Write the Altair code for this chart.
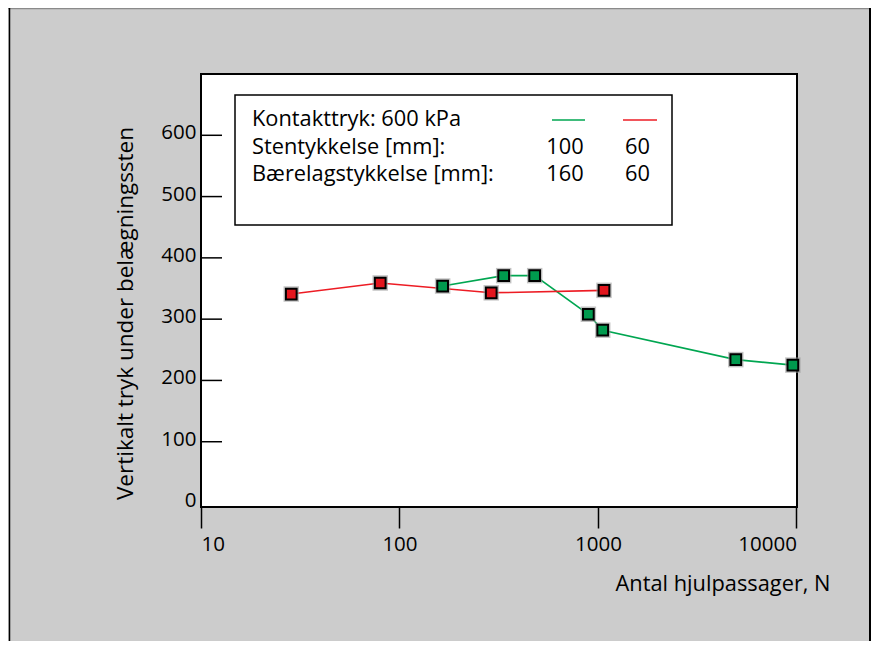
import altair as alt
import pandas as pd

# ---- data ----
green_N = [165, 335, 480, 895, 1057, 4950, 9600]
green_P = [354, 371, 371, 308, 282, 234, 225]
red_N = [28.5, 80, 290, 1073]
red_P = [341, 359, 343, 347]
series_names = ["Sten 100 mm / bærelag 160 mm", "Sten 60 mm / bærelag 60 mm"]
series_colors = ["#00a651", "#ed1c24"]
fill_colors = ["#009a4e", "#e3161e"]

x_ticks = [10, 100, 1000, 10000]
y_ticks = [0, 100, 200, 300, 400, 500, 600]
y_tick_marks = [100, 200, 300, 400, 500, 600]

legend_header = "Kontakttryk: 600 kPa"
legend_rows = ["Stentykkelse [mm]:", "Bærelagstykkelse [mm]:"]
legend_green = ["100", "160"]
legend_red = ["60", "60"]

x_title = "Antal hjulpassager, N"
y_title = "Vertikalt tryk under belægningssten"

FONT = "Open Sans"
W, H = 596, 433

df = pd.DataFrame({
    "N": green_N + red_N,
    "P": green_P + red_P,
    "serie": [series_names[0]] * len(green_N) + [series_names[1]] * len(red_N),
})

xs = alt.Scale(type="log", domain=[10, 10070], nice=False)
ys = alt.Scale(domain=[-6.5, 700], nice=False, zero=False)
cs = alt.Scale(domain=series_names, range=series_colors)
fs = alt.Scale(domain=series_names, range=fill_colors)

x_axis = alt.Axis(values=x_ticks, format="d", title=x_title)
y_axis = alt.Axis(values=y_ticks, title=y_title)

X = alt.X("N:Q", scale=xs, axis=x_axis)
Y = alt.Y("P:Q", scale=ys, axis=y_axis)

base = alt.Chart(df)
lines = base.mark_line(strokeWidth=1.6).encode(
    x=X, y=Y,
    color=alt.Color("serie:N", scale=cs, legend=None),
    order="N:Q",
)
halo = base.mark_point(shape="square", filled=True, size=240, color="#9a9a9a", opacity=0.6).encode(
    x=X, y=Y,
)
points = base.mark_point(shape="square", filled=True, size=115, stroke="black",
                         strokeWidth=2, opacity=1).encode(
    x=X, y=Y,
    fill=alt.Fill("serie:N", scale=fs, legend=None),
)

# inward y ticks
yt = alt.Chart(pd.DataFrame({"P": y_tick_marks})).mark_rule(color="black", strokeWidth=1.5).encode(
    y=Y, x=alt.value(0), x2=alt.value(21)
)

one = pd.DataFrame({"k": [0]})

def rule(x, x2, y, y2, color, sw):
    return alt.Chart(one).mark_rule(color=color, strokeWidth=sw).encode(
        x=alt.value(x), x2=alt.value(x2), y=alt.value(y), y2=alt.value(y2))

# outer panel borders
top_border = rule(-193, 670, -65.5, -65.5, "#8a8a8a", 1.5)
left_border = rule(-191.5, -191.5, -66, 580, "black", 1.5)
right_border = rule(669, 669, -66, 580, "black", 2)

# legend box
leg_box = alt.Chart(one).mark_rect(fill="white", stroke="black", strokeWidth=1.5).encode(
    x=alt.value(34), x2=alt.value(471), y=alt.value(21), y2=alt.value(151))

def txt(s, x, y, align="left"):
    return alt.Chart(one).mark_text(font=FONT, fontSize=21.8, color="black", align=align,
                                    baseline="alphabetic").encode(
        x=alt.value(x), y=alt.value(y), text=alt.value(s))

leg_items = [
    txt(legend_header, 51, 52),
    txt(legend_rows[0], 51, 79.5),
    txt(legend_rows[1], 51, 107),
    txt(legend_green[0], 364, 79.5, "center"),
    txt(legend_green[1], 364, 107, "center"),
    txt(legend_red[0], 436.5, 79.5, "center"),
    txt(legend_red[1], 436.5, 107, "center"),
    rule(351, 384, 46, 46, series_colors[0], 1.6),
    rule(422, 456, 46, 46, series_colors[1], 1.6),
]

chart = alt.layer(
    lines, yt, top_border, left_border, right_border,
    leg_box, *leg_items, halo, points,
).properties(
    width=W, height=H,
    autosize=alt.AutoSizeParams(type="none"),
    padding={"left": 193, "top": 66, "right": 74, "bottom": 134},
    background="#cccccc",
).configure_view(
    fill="white", stroke="black", strokeWidth=2
).configure_axisX(
    grid=False, domain=False,
    tickSize=21, tickWidth=1.5, tickColor="black",
    labelFont=FONT, labelFontSize=20.5, labelColor="black", labelPadding=6,
    titleFont=FONT, titleFontSize=21.8, titleFontWeight="normal", titleColor="black",
    titleX=629, titleY=76, titleAlign="right", titleBaseline="middle",
).configure_axisY(
    grid=False, domain=False, ticks=False,
    labelFont=FONT, labelFontSize=20.5, labelColor="black", labelPadding=5,
    labelBaseline="middle", labelOffset=-2.5,
    titleFont=FONT, titleFontSize=22.5, titleFontWeight="normal", titleColor="black",
    titleAngle=270, titleX=-76, titleY=239, titleAlign="center", titleBaseline="middle",
)

chart.save("out.html", embed_options={"renderer": "svg", "actions": False})
